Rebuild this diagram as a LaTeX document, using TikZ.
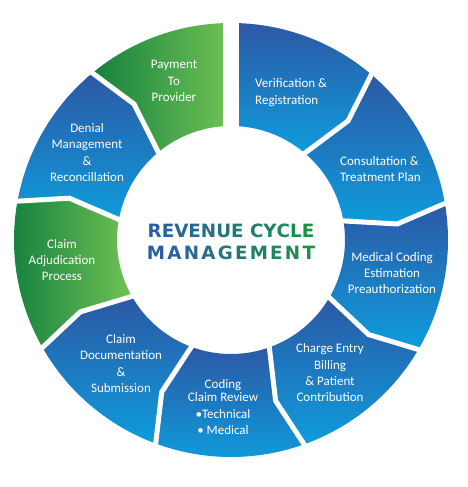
\documentclass[tikz,border=0pt]{standalone}
\usepackage{fontspec}
\newfontfamily\stepfont{Carlito}
\newfontfamily\titlefont{DejaVu Sans}
\definecolor{SectorTop}{HTML}{2C58A5}
\definecolor{SectorBottom}{HTML}{0E9CDB}
\definecolor{LeafDark}{HTML}{14803F}
\definecolor{LeafLight}{HTML}{70C254}
\definecolor{TitleBlue}{HTML}{2A5DA8}
\definecolor{TitleGreen}{HTML}{1E9145}

\newcommand\tletter[2]{\textcolor{TitleGreen!#1!TitleBlue}{#2}}
% style, start angle, kink at start, kink at end
\newcommand\rcmsector[4]{%
  \path[#1] (#2:\rin) -- (#2-#3:\rmid) -- (#2:\rout)
    arc[start angle=#2,end angle=#2-40,radius=\rout]
    -- (#2-40-#4:\rmid) -- (#2-40:\rin)
    arc[start angle=#2-40,end angle=#2,radius=\rin] -- cycle;}

\begin{document}
\begin{tikzpicture}[x=1pt,y=1pt,
  bluesector/.style={top color=SectorTop,bottom color=SectorBottom},
  greensector/.style={left color=LeafDark,right color=LeafLight},
  steplabel/.style={text=white,align=center,inner sep=0pt,
    font=\stepfont\fontsize{13}{16.3}\selectfont},
  gapline/.style={draw=white,line width=5pt},
  titleline/.style={inner sep=0pt,font=\titlefont\bfseries\fontsize{18.3}{22}\selectfont}]
\def\rin{114pt}\def\rmid{167pt}\def\rout{217pt}

\fill[white] (-231,-247) rectangle (236,240);

% sectors, clockwise from the top
\rcmsector{bluesector}{90}{0}{4.5}
\rcmsector{bluesector}{50}{4.5}{4.5}
\rcmsector{bluesector}{10}{4.5}{4.5}
\rcmsector{bluesector}{-30}{4.5}{4.5}
\rcmsector{bluesector}{-70}{4.5}{4.5}
\rcmsector{bluesector}{-110}{4.5}{4.5}
\rcmsector{greensector}{-150}{4.5}{4.5}
\rcmsector{bluesector}{170}{4.5}{4.5}
\rcmsector{greensector}{130}{4.5}{0}

% white gaps
\foreach \a in {50,10,-30,-70,-110,-150,170,130}
  \draw[gapline] (\a:111pt) -- (\a-4.5:\rmid) -- (\a:222pt);
\draw[gapline,line width=16pt] (90:110pt) -- (90:222pt);

\node[steplabel] (payment) at (-57,159) {Payment\\To\\Provider};
\node[steplabel,align=left,anchor=west] (verify) at (24,147.5) {Verification \&\\Registration};
\node[steplabel,align=left,anchor=west] (consult) at (109,71) {Consultation \&\\Treatment Plan};
\node[steplabel] (coding) at (161,-33) {Medical Coding\\Estimation\\Preauthorization};
\node[steplabel] (charge) at (99,-132.7) {Charge Entry\\Billing\\\& Patient\\Contribution};
\node[steplabel] (review) at (-8,-167) {Coding\\[-3pt]Claim Review\\•Technical\\• Medical};
\node[steplabel] (document) at (-110,-123.5) {Claim\\Documentation\\\&\\Submission};
\node[steplabel] (adjudicate) at (-169,-20) {Claim\\Adjudication\\Process};
\node[steplabel] (denial) at (-144,87.4) {Denial\\Management\\\&\\Reconcillation};

\node[titleline] (titletop) at (0,9.3) {\tletter{0}{R}\tletter{8}{E}\tletter{17}{V}\tletter{25}{E}\tletter{33}{N}\tletter{42}{U}\tletter{50}{E} \tletter{62}{C}\tletter{71}{Y}\tletter{81}{C}\tletter{90}{L}\tletter{100}{E}};
\node[titleline] (titlebottom) at (0,-12.7) {\makebox[168pt][s]{\tletter{0}{M}\hfill\tletter{11}{A}\hfill\tletter{22}{N}\hfill\tletter{33}{A}\hfill\tletter{44}{G}\hfill\tletter{56}{E}\hfill\tletter{67}{M}\hfill\tletter{78}{E}\hfill\tletter{89}{N}\hfill\tletter{100}{T}}};
\end{tikzpicture}
\end{document}
